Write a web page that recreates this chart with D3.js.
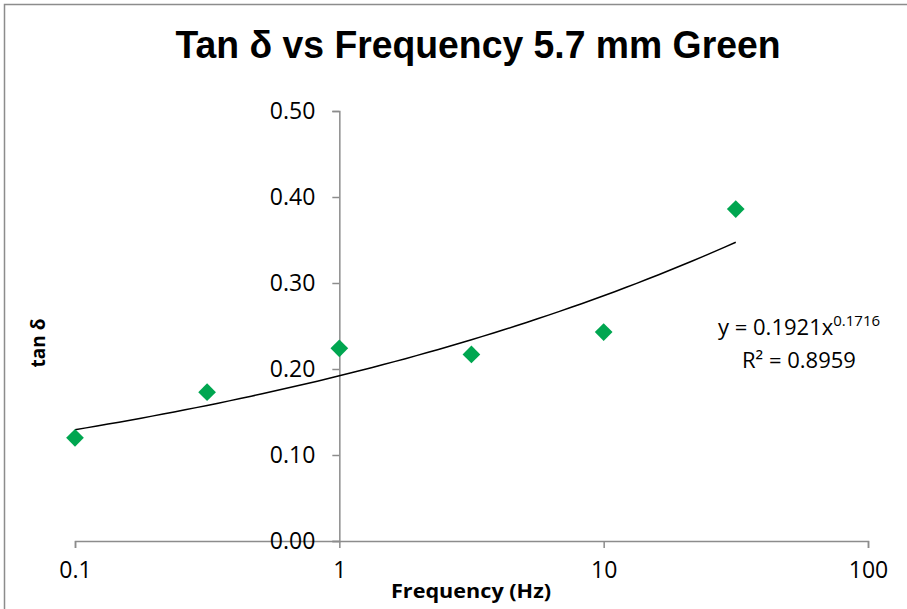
<!DOCTYPE html>
<html>
<head>
<meta charset="utf-8">
<script src="https://cdn.jsdelivr.net/npm/d3@7"></script>
<style>
  body { margin: 0; background: #fff; }
</style>
</head>
<body>
<div id="chart"></div>
<script>
// measured values
var frequency = [0.1, 0.316, 1, 3.16, 10, 31.6];
var tanDelta = [0.120, 0.173, 0.224, 0.217, 0.243, 0.386];
var xTicks = [0.1, 1, 10, 100];
var yTicks = [0, 0.1, 0.2, 0.3, 0.4, 0.5];
// power trendline shown on the chart: y = a * x^b
var trendA = 0.1921, trendB = 0.1716;
var trendR2 = 0.8959;
var trendRange = [0.1, 31.6];

var W = 907, H = 609;
var margin = {top: 111, left: 75, right: 39, bottom: 68};

var svg = d3.select("#chart").append("svg")
    .attr("width", W).attr("height", H);

// chart border (cut off on right / bottom)
svg.append("rect")
    .attr("x", 4.5).attr("y", 4.5)
    .attr("width", W + 10).attr("height", H + 10)
    .style("fill", "none").style("stroke", "#8c8c8c").style("stroke-width", 1.5);

var xScale = d3.scaleLog().domain([0.1, 100]).range([margin.left, W - margin.right]);
var yScale = d3.scaleLinear().domain([0, 0.5]).range([H - margin.bottom, margin.top]);

var tickFont = "'Open Sans', 'Noto Sans', sans-serif";

// x axis at y = 0
var xAxisG = svg.append("g")
    .attr("transform", "translate(0," + yScale(0) + ")")
    .call(d3.axisBottom(xScale).tickValues(xTicks).tickSize(7).tickPadding(14)
        .tickFormat(function(d) { return d3.format("~g")(d); }));
xAxisG.select(".domain").style("stroke", "#8c8c8c").style("stroke-width", 1.5);
xAxisG.selectAll(".tick line").style("stroke", "#8c8c8c").style("stroke-width", 1.5);
xAxisG.selectAll("text")
    .style("font-family", tickFont).style("font-size", "23px").style("fill", "#000");

// y axis crosses at x = 1
var yAxisG = svg.append("g")
    .attr("transform", "translate(" + xScale(1) + ",0)")
    .call(d3.axisLeft(yScale).tickValues(yTicks).tickSize(7).tickPadding(17)
        .tickFormat(d3.format(".2f")));
yAxisG.select(".domain").style("stroke", "#8c8c8c").style("stroke-width", 1.5);
yAxisG.selectAll(".tick line").style("stroke", "#8c8c8c").style("stroke-width", 1.5);
yAxisG.selectAll("text")
    .style("font-family", tickFont).style("font-size", "23px").style("fill", "#000");

// trendline
var trendX = d3.range(0, 61).map(function(i) {
    var l0 = Math.log10(trendRange[0]), l1 = Math.log10(trendRange[1]);
    return Math.pow(10, l0 + (l1 - l0) * i / 60);
});
var line = d3.line()
    .x(function(d) { return xScale(d); })
    .y(function(d) { return yScale(trendA * Math.pow(d, trendB)); });
svg.append("path")
    .datum(trendX)
    .attr("d", line)
    .style("fill", "none").style("stroke", "#000").style("stroke-width", 1.5);

// markers
var pts = frequency.map(function(f, i) { return [f, tanDelta[i]]; });
svg.selectAll("path.marker").data(pts).enter().append("path")
    .attr("class", "marker")
    .attr("d", d3.symbol().type(d3.symbolDiamond2).size(200))
    .attr("transform", function(d) {
        return "translate(" + xScale(d[0]) + "," + yScale(d[1]) + ")";
    })
    .style("fill", "#00a650");

// title
svg.append("text")
    .attr("x", 478).attr("y", 58)
    .attr("text-anchor", "middle")
    .attr("textLength", 605).attr("lengthAdjust", "spacingAndGlyphs")
    .style("font-family", "'Liberation Sans', Arial, sans-serif")
    .style("font-weight", "bold").style("font-size", "38px")
    .text("Tan δ vs Frequency 5.7 mm Green");

// axis titles
svg.append("text")
    .attr("transform", "translate(45,343) rotate(-90)")
    .attr("text-anchor", "middle")
    .style("font-family", tickFont).style("font-weight", "bold").style("font-size", "19px")
    .text("tan δ");
svg.append("text")
    .attr("x", 471).attr("y", 598)
    .attr("text-anchor", "middle")
    .attr("textLength", 160).attr("lengthAdjust", "spacingAndGlyphs")
    .style("font-family", tickFont).style("font-weight", "bold").style("font-size", "20px")
    .text("Frequency (Hz)");

// trendline equation
var eq = svg.append("text")
    .attr("x", 718).attr("y", 335)
    .style("font-family", tickFont).style("font-size", "22px");
eq.append("tspan").text("y = " + trendA + "x");
eq.append("tspan").attr("dy", -9).style("font-size", "15px").text(trendB);
svg.append("text")
    .attr("x", 742).attr("y", 368)
    .style("font-family", tickFont).style("font-size", "22px")
    .text("R² = " + trendR2);
</script>
</body>
</html>
